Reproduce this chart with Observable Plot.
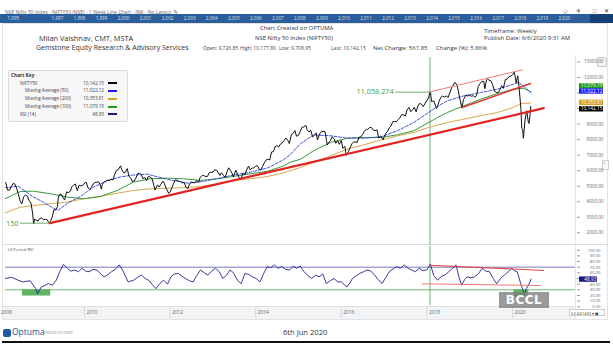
<!DOCTYPE html>
<html><head><meta charset="utf-8">
<script src="https://cdn.jsdelivr.net/npm/d3@7"></script>
<script src="https://cdn.jsdelivr.net/npm/@observablehq/plot@0.6"></script>
<style>
html,body{margin:0;padding:0;background:#fff;}
#wrap{position:relative;width:613px;height:353px;overflow:hidden;background:#fff;font-family:"Open Sans","Noto Sans",sans-serif;color:#333;}
.a{position:absolute;white-space:nowrap;line-height:1;}
.svgbox{position:absolute;left:0;}
.svgbox svg{display:block;}
</style></head>
<body><div id="wrap">
 <div class="a" style="left:5px;top:9px;font-size:5px;color:#666">NSE Nifty 50 Index - NIFTY50 (NSE) - 1 Week Line Chart - INR - No Layout <span style="font-size:6px">✎</span></div>
 <div class="a" style="left:563px;top:8px;font-size:6px;color:#333;letter-spacing:3px">◇ ✈ &nbsp;□ ✕</div>
 <div class="a" style="left:0;top:14px;width:613px;height:9px;background:#2c5e9c"></div>
 <div class="a" style="left:590px;top:14px;width:23px;height:9px;background:#163f78"></div>
 <div id="ruler" class="svgbox" style="top:14px"></div>
 <div class="a" style="left:2px;top:23px;width:606px;height:297px;border:1px solid #e3e3e3;box-sizing:border-box"></div>

 <div class="a" style="left:39px;top:35px;font-size:7.4px;color:#333">Milan Vaishnav, CMT, MSTA</div>
 <div class="a" style="left:36px;top:44px;font-size:7px;color:#333">Gemstone Equity Research &amp; Advisory Services</div>
 <div class="a" style="left:260px;top:26px;font-size:5.9px;color:#333">Chart Created on OPTUMA</div>
 <div class="a" style="left:255px;top:35.5px;font-size:5.9px;color:#333">NSE Nifty 50 Index (NIFTY50)</div>
 <div class="a" style="left:203px;top:46px;font-size:5px;color:#444">Open: 9,726.85</div>
 <div class="a" style="left:240px;top:46px;font-size:5px;color:#444">High: 10,177.80</div>
 <div class="a" style="left:279px;top:46px;font-size:5px;color:#444">Low: 9,708.95</div>
 <div class="a" style="left:331px;top:46px;font-size:5px;color:#444">Last: 10,142.15</div>
 <div class="a" style="left:373px;top:45px;font-size:6px;color:#333">Net Change: 561.85</div>
 <div class="a" style="left:436px;top:45px;font-size:6px;color:#333">Change (%): 5.86%</div>
 <div class="a" style="left:484px;top:28.5px;font-size:5.9px;color:#333">Timeframe: Weekly</div>
 <div class="a" style="left:484px;top:36px;font-size:5.9px;color:#333">Publish Date: 6/6/2020 9:31 AM</div>

 <div class="a" style="left:575px;top:55px;width:1px;height:265px;background:#e6e6e6"></div>
 <div class="a" style="left:3px;top:244px;width:604px;height:1px;background:#dcdcdc"></div>
 <div class="a" style="left:3px;top:306px;width:572px;height:12px;background:#f2f3f5;border-top:1px solid #dedede"></div>
 <div class="a" style="left:597px;top:57px;width:8px;height:8px;border:1px solid #c8c8c8;border-radius:2px;background:#f3f3f3"></div>
 <div class="a" style="left:602px;top:160px;width:5px;height:8px;border:1px solid #d0d0d0;background:#fafafa;font-size:4px;color:#666">«</div>

 <div id="price" class="svgbox" style="top:55px"></div>
 <div id="rsi" class="svgbox" style="top:246px"></div>

 <div class="a" style="left:8px;top:70px;width:120px;height:52px;background:#f7f7f7;border:1px solid #dcdcdc;box-sizing:border-box"></div>
 <div id="key"></div>
 <div class="a" style="left:7px;top:247px;font-size:4.3px;color:#555">14 Period RSI</div>

 <div class="a" style="left:499px;top:292px;width:50px;height:16px;background:rgba(125,125,125,0.78);color:#fff;font-weight:bold;font-size:12px;line-height:16px;text-align:center;letter-spacing:0.5px;font-family:'DejaVu Sans',sans-serif">BCCL</div>
 <div class="a" style="left:569px;top:309px;width:36px;height:7px;border:1px solid #ccc;background:#fff;font-size:4.2px;color:#444;line-height:7px;padding-left:1px;box-sizing:border-box">52.641450 ▾ ◼</div>

 <div class="a" style="left:3px;top:329px;width:8px;height:8px;background:#1f5aa6;border-radius:2px"></div>
 <div class="a" style="left:12px;top:328px;font-size:8.5px;color:#1f4f8f">Optuma</div>
 <div class="a" style="left:44px;top:332px;font-size:3px;color:#999">TRADING SOFTWARE</div>
 <div class="a" style="left:283px;top:329px;font-size:7.6px;color:#333">6th Jun 2020</div>
 <div class="a" style="left:2px;top:340.5px;width:608px;height:2.5px;background:#111"></div>
</div>
<script>
// ---------- data ----------
const nifty2008 = [["2008-02-15",5302],["2008-03-01",5224],["2008-03-15",4745],["2008-04-01",4740],["2008-04-15",4958],["2008-05-01",5165],["2008-05-15",5157],["2008-06-01",4870],["2008-06-15",4517],["2008-07-01",4040],["2008-07-15",3862],["2008-08-01",4333],["2008-08-15",4430],["2008-09-01",4360],["2008-09-15",4072],["2008-10-01",3921],["2008-10-15",3269],["2008-10-24",2584],["2008-11-01",2885],["2008-11-15",2810],["2008-12-01",2755],["2008-12-15",2921]];
const nifty2009 = [["2009-01-01",2959],["2009-01-15",2835],["2009-02-01",2874],["2009-02-15",2848],["2009-03-06",2621],["2009-03-15",2719],["2009-04-01",3021],["2009-04-15",3484],["2009-05-01",3473],["2009-05-15",3671],["2009-05-22",4238],["2009-06-01",4449],["2009-06-15",4484],["2009-07-01",4291],["2009-07-15",4111],["2009-08-01",4636],["2009-08-15",4580],["2009-09-01",4662],["2009-09-15",4958],["2009-10-01",5084],["2009-10-15",5142],["2009-11-01",4712],["2009-11-15",5058],["2009-12-01",5033],["2009-12-15",5044]];
const nifty2010 = [["2010-01-01",5201],["2010-01-15",5252],["2010-02-01",4882],["2010-02-15",4801],["2010-03-01",4922],["2010-03-15",5133],["2010-04-01",5249],["2010-04-15",5262],["2010-05-01",5278],["2010-05-15",5094],["2010-05-25",4806],["2010-06-01",5087],["2010-06-15",5262],["2010-07-01",5313],["2010-07-15",5393],["2010-08-01",5368],["2010-08-15",5452],["2010-09-01",5402],["2010-09-15",5760],["2010-10-01",6030],["2010-10-15",6062],["2010-11-05",6312],["2010-11-15",6071],["2010-12-01",5863],["2010-12-15",5892]];
const nifty2011 = [["2011-01-01",6135],["2011-01-15",5654],["2011-02-01",5506],["2011-02-11",5310],["2011-03-01",5333],["2011-03-15",5520],["2011-04-01",5834],["2011-04-15",5824],["2011-05-01",5749],["2011-05-15",5486],["2011-06-01",5560],["2011-06-15",5366],["2011-07-01",5647],["2011-07-15",5581],["2011-08-01",5482],["2011-08-15",5072],["2011-08-26",4747],["2011-09-15",5084],["2011-10-01",4943],["2011-10-15",5132],["2011-11-01",5327],["2011-11-15",5148],["2011-12-01",4832],["2011-12-20",4544]];
const nifty2012 = [["2012-01-01",4624],["2012-01-15",4867],["2012-02-01",5199],["2012-02-15",5416],["2012-03-01",5385],["2012-03-15",5318],["2012-04-01",5296],["2012-04-15",5207],["2012-05-01",5248],["2012-05-15",4943],["2012-06-01",4842],["2012-06-15",5139],["2012-07-01",5279],["2012-07-15",5228],["2012-08-01",5229],["2012-08-15",5362],["2012-09-01",5259],["2012-09-15",5577],["2012-10-01",5703],["2012-10-15",5684],["2012-11-01",5620],["2012-11-15",5631],["2012-12-01",5880],["2012-12-15",5907]];
const nifty2013 = [["2013-01-01",5905],["2013-01-15",6056],["2013-02-01",6035],["2013-02-15",5887],["2013-03-01",5693],["2013-03-15",5872],["2013-04-01",5683],["2013-04-15",5568],["2013-05-01",5930],["2013-05-15",6187],["2013-06-01",5986],["2013-06-15",5808],["2013-06-24",5590],["2013-07-15",6030],["2013-08-01",5742],["2013-08-15",5507],["2013-08-28",5471],["2013-09-15",5850],["2013-10-01",5735],["2013-10-15",6045],["2013-11-01",6299],["2013-11-15",6056],["2013-12-01",6176],["2013-12-15",6168]];
const nifty2014 = [["2014-01-01",6304],["2014-01-15",6320],["2014-02-01",6090],["2014-02-15",6048],["2014-03-01",6277],["2014-03-15",6504],["2014-04-01",6704],["2014-04-15",6733],["2014-05-01",6696],["2014-05-16",7203],["2014-06-01",7230],["2014-06-15",7542],["2014-07-01",7611],["2014-07-15",7527],["2014-08-01",7721],["2014-08-15",7792],["2014-09-01",7954],["2014-09-15",8105],["2014-10-01",7965],["2014-10-15",7748],["2014-11-01",8322],["2014-11-15",8390],["2014-12-01",8588],["2014-12-15",8220]];
const nifty2015 = [["2015-01-01",8283],["2015-01-15",8513],["2015-02-01",8809],["2015-02-15",8805],["2015-03-04",8937],["2015-03-15",8647],["2015-04-01",8491],["2015-04-15",8606],["2015-05-01",8182],["2015-05-15",8263],["2015-06-01",8434],["2015-06-12",7982],["2015-07-01",8369],["2015-07-15",8522],["2015-08-01",8533],["2015-08-15",8518],["2015-08-28",7949],["2015-09-04",7655],["2015-09-15",7789],["2015-10-01",7949],["2015-10-15",8179],["2015-11-01",8066],["2015-11-15",7762],["2015-12-01",7935],["2015-12-15",7700]];
const nifty2016 = [["2016-01-01",7946],["2016-01-15",7437],["2016-02-01",7564],["2016-02-12",6981],["2016-03-01",7222],["2016-03-15",7460],["2016-04-01",7738],["2016-04-15",7850],["2016-05-01",7850],["2016-05-15",7815],["2016-06-01",8160],["2016-06-15",8170],["2016-07-01",8328],["2016-07-15",8541],["2016-08-01",8639],["2016-08-15",8672],["2016-09-01",8786],["2016-09-15",8779],["2016-10-01",8611],["2016-10-15",8583],["2016-11-01",8626],["2016-11-15",8111],["2016-12-01",8224],["2016-12-23",7986]];
const nifty2017 = [["2017-01-01",8186],["2017-01-15",8400],["2017-02-01",8561],["2017-02-15",8778],["2017-03-01",8880],["2017-03-15",9160],["2017-04-01",9174],["2017-04-15",9150],["2017-05-01",9304],["2017-05-15",9400],["2017-06-01",9621],["2017-06-15",9588],["2017-07-01",9521],["2017-07-15",9915],["2017-08-01",10077],["2017-08-15",9794],["2017-09-01",9918],["2017-09-15",10085],["2017-10-01",9789],["2017-10-15",10167],["2017-11-01",10335],["2017-11-15",10283],["2017-12-01",10121],["2017-12-15",10333]];
const nifty2018 = [["2018-01-01",10531],["2018-01-15",10681],["2018-01-26",11070],["2018-02-01",11028],["2018-02-09",10455],["2018-03-01",10493],["2018-03-23",9998],["2018-04-01",10114],["2018-04-15",10480],["2018-05-01",10739],["2018-05-15",10806],["2018-06-01",10736],["2018-06-15",10818],["2018-07-01",10714],["2018-07-15",11018],["2018-08-01",11357],["2018-08-28",11691],["2018-09-15",11515],["2018-10-01",10930],["2018-10-26",10030],["2018-11-09",10585],["2018-12-01",10877],["2018-12-15",10805]];
const nifty2019 = [["2019-01-01",10863],["2019-01-15",10794],["2019-02-01",10831],["2019-02-15",10724],["2019-03-01",10863],["2019-03-15",11427],["2019-04-01",11624],["2019-04-15",11753],["2019-05-01",11748],["2019-05-10",11279],["2019-05-24",11844],["2019-06-01",11923],["2019-06-15",11823],["2019-07-01",11789],["2019-07-15",11552],["2019-08-01",11118],["2019-08-15",11047],["2019-09-01",11023],["2019-09-20",11274],["2019-10-01",11474],["2019-10-15",11305],["2019-11-01",11877],["2019-11-15",11895],["2019-12-01",12056],["2019-12-15",12086]];
const nifty2020 = [["2020-01-01",12168],["2020-01-17",12352],["2020-02-01",11662],["2020-02-15",12113],["2020-02-28",11202],["2020-03-13",9955],["2020-03-20",8745],["2020-03-27",8660],["2020-04-03",8084],["2020-04-17",9267],["2020-05-01",9860],["2020-05-15",9137],["2020-05-22",9039],["2020-05-29",9580],["2020-06-05",10142]];

// moving averages [decimal year, value]
const ma50Points = [[2008.14,4900],[2008.45,5000],[2008.81,4300],[2009.04,3970],[2009.28,3570],[2009.39,3460],[2009.60,3900],[2009.91,4350],[2010.21,4940],[2010.54,5370],[2010.84,5600],[2011.14,5720],[2011.47,5780],[2011.71,5600],[2012.01,5400],[2012.41,5200],[2012.71,5280],[2013.11,5500],[2013.48,5720],[2013.88,5900],[2014.28,6180],[2014.65,6700],[2014.81,7050],[2015.05,7750],[2015.35,8300],[2015.75,8250],[2016.14,8100],[2016.52,8090],[2016.92,8180],[2017.31,8570],[2017.69,9100],[2018.04,9750],[2018.25,10150],[2018.48,10500],[2018.86,10820],[2019.25,11030],[2019.65,11250],[2020.02,11570],[2020.14,11680],[2020.26,11450],[2020.43,11022.12]];
const ma100Points = [[2008.14,4190],[2008.50,4660],[2008.81,4680],[2009.21,4510],[2009.60,4300],[2009.98,4190],[2010.37,4340],[2010.77,4730],[2011.14,5260],[2011.54,5480],[2011.94,5520],[2012.31,5480],[2012.71,5370],[2013.11,5480],[2013.48,5630],[2013.88,5800],[2014.28,5970],[2014.65,6300],[2014.81,6550],[2015.05,6740],[2015.35,7280],[2015.75,7820],[2016.14,8090],[2016.52,8140],[2016.92,8140],[2017.31,8310],[2017.69,8570],[2018.04,9100],[2018.25,9430],[2018.48,9750],[2018.86,10180],[2019.25,10600],[2019.65,10970],[2020.02,11250],[2020.26,11310],[2020.43,11079.19]];
const ma200Points = [[2008.14,3280],[2008.50,3650],[2008.81,3760],[2009.21,3870],[2009.60,3980],[2009.98,4190],[2010.37,4340],[2010.77,4550],[2011.14,4725],[2011.54,4835],[2011.94,4875],[2012.31,4900],[2012.71,4985],[2013.11,5160],[2013.48,5370],[2013.88,5480],[2014.28,5630],[2014.65,5860],[2015.05,6207],[2015.35,6529],[2015.75,6960],[2016.14,7385],[2016.52,7668],[2016.92,7965],[2017.31,8248],[2017.69,8461],[2018.04,8782],[2018.48,9104],[2018.86,9317],[2019.25,9536],[2019.65,9748],[2020.02,10070],[2020.20,10330],[2020.43,10353.81]];

// RSI(14) [decimal year, value]
const rsiPoints = [[2008.14,50],[2008.30,52],[2008.45,47],[2008.56,44],[2008.73,46],[2008.86,32],[2008.90,23],[2008.99,35],[2009.08,38],[2009.16,41],[2009.25,38],[2009.34,47],[2009.42,62],[2009.51,75],[2009.60,68],[2009.68,63],[2009.77,65],[2009.86,62],[2009.94,68],[2010.03,63],[2010.11,62],[2010.20,66],[2010.29,65],[2010.38,58],[2010.46,53],[2010.55,57],[2010.63,62],[2010.72,66],[2010.81,74],[2010.89,65],[2010.95,55],[2011.02,44],[2011.15,47],[2011.24,52],[2011.33,56],[2011.42,50],[2011.50,47],[2011.60,38],[2011.67,32],[2011.76,41],[2011.85,47],[2011.94,40],[2012.02,53],[2012.10,58],[2012.19,59],[2012.28,54],[2012.36,50],[2012.45,46],[2012.54,44],[2012.62,55],[2012.71,65],[2012.80,60],[2012.88,56],[2012.97,63],[2013.06,68],[2013.15,62],[2013.23,50],[2013.32,56],[2013.40,65],[2013.48,60],[2013.57,47],[2013.66,41],[2013.75,59],[2013.84,57],[2013.92,53],[2014.01,50],[2014.10,44],[2014.18,58],[2014.27,71],[2014.35,69],[2014.44,74],[2014.52,68],[2014.61,71],[2014.70,66],[2014.79,65],[2014.88,72],[2014.96,68],[2015.04,72],[2015.13,62],[2015.22,55],[2015.31,50],[2015.40,56],[2015.48,53],[2015.57,58],[2015.65,41],[2015.74,46],[2015.83,50],[2015.92,44],[2016.00,44],[2016.13,35],[2016.20,42],[2016.26,50],[2016.35,55],[2016.43,59],[2016.52,62],[2016.60,65],[2016.69,63],[2016.78,56],[2016.86,48],[2016.95,41],[2017.04,52],[2017.12,62],[2017.21,67],[2017.30,71],[2017.38,68],[2017.47,74],[2017.56,68],[2017.64,65],[2017.73,62],[2017.82,68],[2017.90,64],[2017.99,65],[2018.08,75],[2018.16,55],[2018.25,47],[2018.34,54],[2018.42,56],[2018.51,62],[2018.60,68],[2018.68,74],[2018.75,52],[2018.81,38],[2018.88,48],[2018.94,53],[2019.03,51],[2019.11,53],[2019.20,58],[2019.29,68],[2019.38,63],[2019.46,62],[2019.55,50],[2019.63,41],[2019.72,50],[2019.81,56],[2019.90,62],[2019.98,68],[2020.04,64],[2020.11,62],[2020.15,52],[2020.19,41],[2020.24,30],[2020.28,22],[2020.32,32],[2020.37,38],[2020.41,44],[2020.43,48.93]];

// drawn studies
const mainTrend = [[2009.19,2620],[2020.73,10025]];
const channelUpper = [[2018.08,11081],[2020.23,12498]];
const channelLower = [[2018.82,10070],[2020.42,11616]];
const levelMarks = [{from:2017.27, to:2018.07, value:11058.274, label:"11,058.274"},{from:2008.505, to:2009.18, value:2620, label:"150"}];
const peakYear = 2018.07;
const rsiUpperTrend = [[2018.07,73.5],[2020.73,64.2]];
const rsiLowerTrend = [[2017.89,40.6],[2020.65,37.6]];
const rsiZones = [{from:2008.55, to:2009.21, top:30, bottom:19},{from:2020.03, to:2020.38, top:30, bottom:17}];

// axes / labels
const priceTicks = [2000,3000,4000,5000,6000,7000,8000,9000,10000,11000,12000,13000];
const priceTickLabels = [2000,3000,4000,5000,6000,7000,8000,9000,12000,13000]; // 10000 & 11000 sit under the value tags
const rsiTicks = [0,10,20,30,40,50,60,70,80,90,100];
const rsiTickLabels = [0,10,20,30,40,60,70,80,90,100]; // 50 sits under the RSI tag
const rsiLevels = [70,30];
const axisYears = [2008,2010,2012,2014,2016,2018,2020];
const rulerYears = [1995,1997,1998,1999,2000,2001,2002,2003,2004,2005,2006,2007,2008,2009,2010,2011,2012,2013,2014,2015,2016,2017,2018,2019,2020];
const priceTags = [["11,079.19",11079.19,"#1f9a1f"],["11,022.12",11022.12,"#1a1aff"],["10,353.81",10353.81,"#d4a020"],["10,142.15",10142.15,"#000000"]];
const rsiTag = ["48.93",48.93,"#1a1a80"];
const keyNames = ["NIFTY50","Moving Average (50)","Moving Average (200)","Moving Average (100)","RSI (14)"];
const keyValues = ["10,142.15","11,022.12","10,353.81","11,079.19","48.93"];
const keyColors = ["#000000","#1a1aff","#d4a020","#1e9a1e","#1a1a80"];

// ---------- helpers ----------
const toDate = y => { const Y = Math.floor(y); const a = Date.UTC(Y,0,1), b = Date.UTC(Y+1,0,1); return new Date(a + (y - Y) * (b - a)); };
const pts = arr => arr.map(([t, v]) => ({date: toDate(t), value: v}));
const price = [].concat(nifty2008,nifty2009,nifty2010,nifty2011,nifty2012,nifty2013,nifty2014,nifty2015,nifty2016,nifty2017,nifty2018,nifty2019,nifty2020)
  .map(([d, v]) => ({date: new Date(d + "T00:00:00Z"), value: v}));
const peakDate = toDate(peakYear);
const fmt2 = d3.format(".2f");
const xOpts = {type:"utc", domain:[new Date(Date.UTC(2010,0,1)), new Date(Date.UTC(2020,0,1))], range:[84,512], axis:null};
const style = {background:"transparent", overflow:"visible", fontFamily:"Open Sans, sans-serif"};

// ---------- ruler ----------
document.getElementById("ruler").append(Plot.plot({
  width:613, height:9, marginTop:0, marginBottom:0, marginLeft:0, marginRight:0, style,
  x:{domain:[1995,2020], range:[7,558], axis:null},
  marks:[
    Plot.text(rulerYears, {x:d=>d, frameAnchor:"middle", textAnchor:"start", fill:"#d3e0f2", fontSize:4.6})
  ]
}));

// ---------- price panel ----------
const tagNudge = [-6, -1.7, -0.8, 2.4];
const priceMarks = [
  Plot.ruleX([peakDate], {stroke:"#62a862", strokeWidth:0.9, insetTop:2}),
  Plot.line(pts(ma200Points), {x:"date", y:"value", stroke:"#d9a64e", strokeWidth:1, clip:true}),
  Plot.line(pts(ma100Points), {x:"date", y:"value", stroke:"#3a983a", strokeWidth:1, clip:true}),
  Plot.line(pts(ma50Points), {x:"date", y:"value", stroke:"#2a3ee0", strokeWidth:0.9, strokeDasharray:"3,1.6", clip:true}),
  Plot.line(price, {x:"date", y:"value", stroke:"#111", strokeWidth:1, clip:true}),
  Plot.line(pts(mainTrend), {x:"date", y:"value", stroke:"#e32222", strokeWidth:2.2}),
  Plot.line(pts(channelLower), {x:"date", y:"value", stroke:"#e33535", strokeWidth:1.5}),
  Plot.line(pts(channelUpper), {x:"date", y:"value", stroke:"#f07a7a", strokeWidth:1}),
  ...levelMarks.map(m => Plot.line(pts([[m.from, m.value],[m.to, m.value]]), {x:"date", y:"value", stroke:"#5aa55a", strokeWidth:0.9})),
  Plot.text(levelMarks, {x:d=>toDate(d.from), y:"value", text:"label", textAnchor:"end", dx:-2, fill:"#4a9e4a", fontSize:7.3}),
  Plot.tickY(priceTicks, {y:d=>d, stroke:"#999", insetLeft:572, insetRight:33}),
  Plot.text(priceTickLabels, {y:d=>d, text:d=>fmt2(d), frameAnchor:"right", textAnchor:"end", dx:-10, fill:"#666", fontSize:4.6}),
  ...priceTags.flatMap(([label, value, color], i) => [
    Plot.tickY([value], {y:d=>d, stroke:color, strokeWidth:5.4, insetLeft:574, insetRight:10, dy:tagNudge[i]}),
    Plot.text([value], {y:d=>d, text:()=>label, frameAnchor:"right", textAnchor:"end", dx:-11, dy:tagNudge[i], fill:"#fff", fontSize:4.8})
  ])
];
document.getElementById("price").append(Plot.plot({
  width:613, height:190, marginTop:0, marginBottom:0, marginLeft:5, marginRight:0, style,
  x:xOpts, y:{domain:[2000,13000], range:[177.3,6.5], axis:null},
  marks: priceMarks
}));

// ---------- RSI panel ----------
document.getElementById("rsi").append(Plot.plot({
  width:613, height:74, marginTop:0, marginBottom:0, marginLeft:5, marginRight:0, style,
  x:xOpts, y:{domain:[0,100], range:[60.3,3.7], axis:null},
  marks:[
    Plot.rect(rsiZones, {x1:d=>toDate(d.from), x2:d=>toDate(d.to), y1:"top", y2:"bottom", fill:"#3aa33a", fillOpacity:0.8}),
    Plot.ruleY(rsiLevels, {y:d=>d, stroke:d=>d===70?"#6b6bb5":"#5fae5f", strokeWidth:0.9, insetRight:38}),
    Plot.ruleX([peakDate], {stroke:"#62a862", strokeWidth:0.9, insetBottom:15}),
    Plot.line(pts(rsiPoints), {x:"date", y:"value", stroke:"#22228f", strokeWidth:0.9, clip:true}),
    Plot.line(pts(rsiUpperTrend), {x:"date", y:"value", stroke:"#e04848", strokeWidth:1.1}),
    Plot.line(pts(rsiLowerTrend), {x:"date", y:"value", stroke:"#ee7a7a", strokeWidth:1}),
    Plot.ruleX(axisYears.map(y=>toDate(y)), {x:d=>d, stroke:"#cfcfcf", strokeWidth:0.8, insetTop:61, insetBottom:2}),
    Plot.text(axisYears, {x:d=>toDate(d), text:d=>String(d), frameAnchor:"bottom", dy:-7, textAnchor:"start", dx:2, fill:"#666", fontSize:4.8}),
    Plot.tickY(rsiTicks, {y:d=>d, stroke:"#999", insetLeft:572, insetRight:33}),
    Plot.text(rsiTickLabels, {y:d=>d, text:d=>fmt2(d), frameAnchor:"right", textAnchor:"end", dx:-13, fill:"#666", fontSize:4.2}),
    Plot.tickY([rsiTag[1]], {y:d=>d, stroke:rsiTag[2], strokeWidth:5.4, insetLeft:574, insetRight:16}),
    Plot.text([rsiTag[1]], {y:d=>d, text:()=>rsiTag[0], frameAnchor:"right", textAnchor:"end", dx:-17, fill:"#fff", fontSize:4.8})
  ]
}));

// ---------- chart key ----------
const key = document.getElementById("key");
key.insertAdjacentHTML("beforeend", `<div class="a" style="left:11px;top:72.5px;font-size:4.8px;font-weight:bold;color:#333">Chart Key</div>`);
const rowY = [83.3, 91, 99, 106.7, 114.3];
const rowX = [20, 25, 25, 25, 20];
keyNames.forEach((n, i) => {
  key.insertAdjacentHTML("beforeend",
    `<div class="a" style="left:${rowX[i]}px;top:${rowY[i]-2.6}px;font-size:4.6px;color:#444">${n}</div>` +
    `<div class="a" style="left:70px;width:34px;text-align:right;top:${rowY[i]-2.6}px;font-size:4.6px;color:#444">${keyValues[i]}</div>` +
    `<div class="a" style="left:108px;top:${rowY[i]-1}px;width:9px;height:2px;background:${keyColors[i]}"></div>`);
});
</script>
</body></html>
